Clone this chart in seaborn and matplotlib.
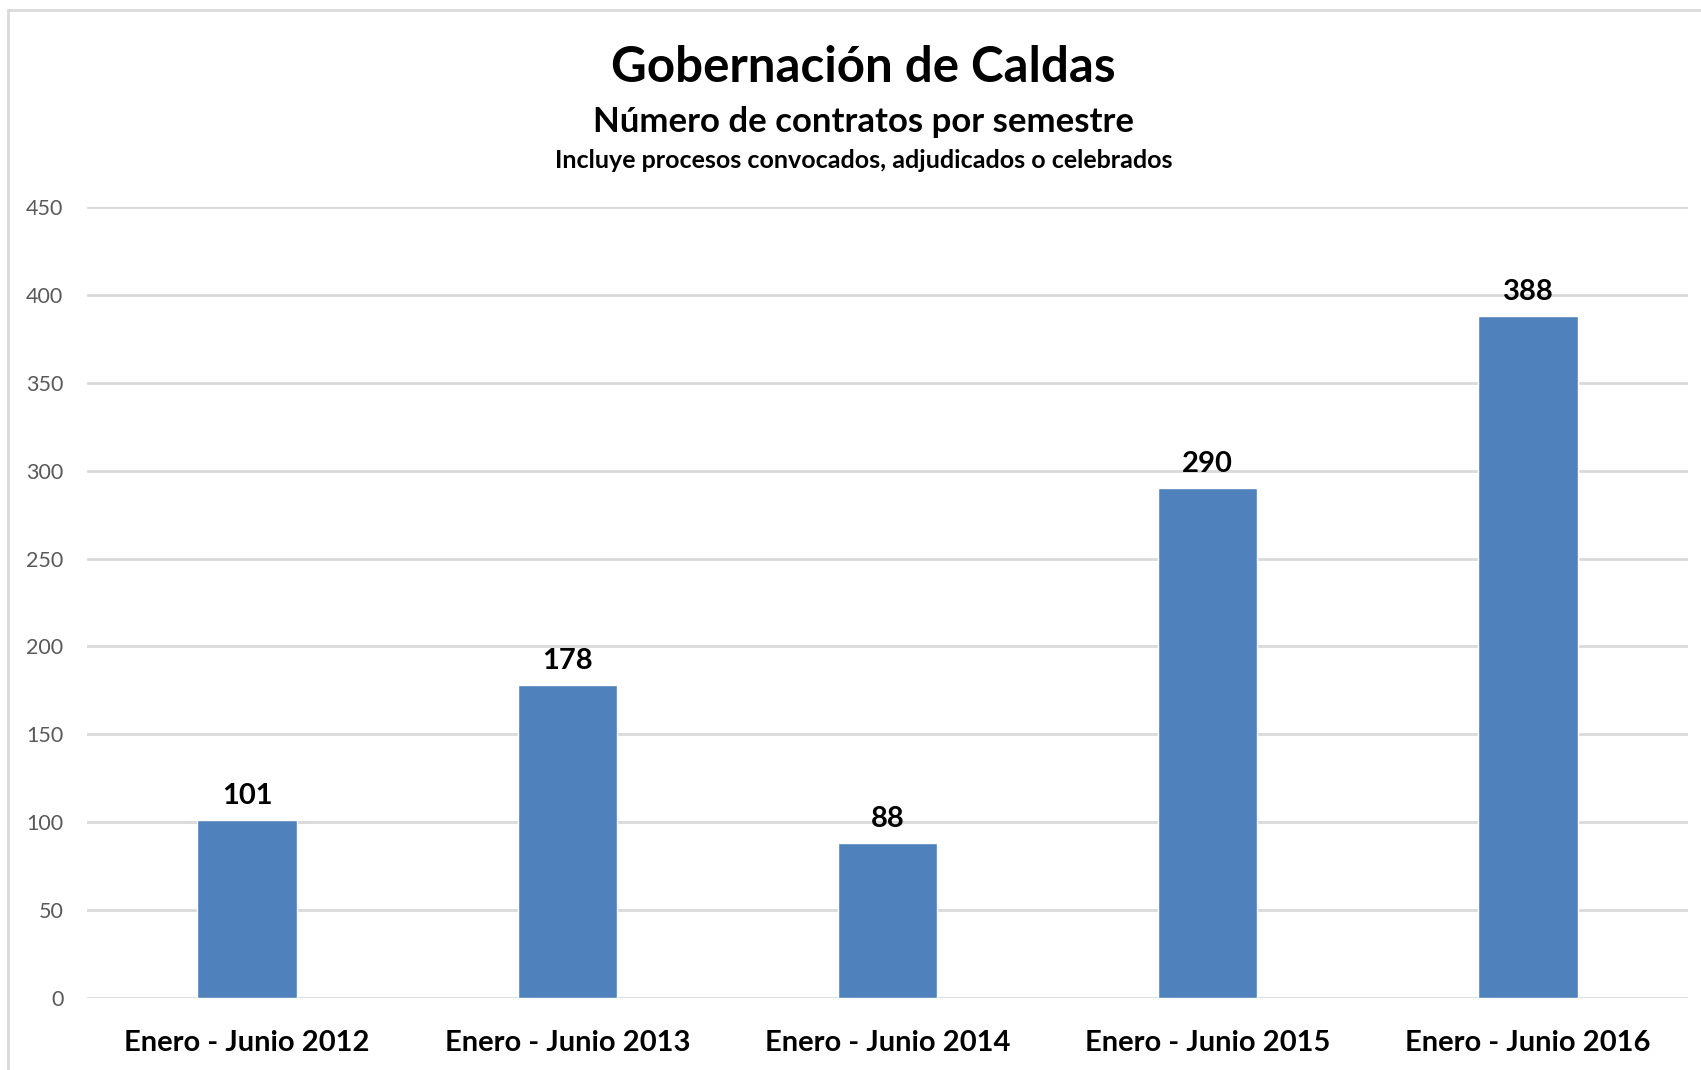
import pandas as pd
import matplotlib.pyplot as plt
import seaborn as sns
from matplotlib.patches import Rectangle

# Chart data
periodos = ["Enero - Junio 2012", "Enero - Junio 2013", "Enero - Junio 2014",
            "Enero - Junio 2015", "Enero - Junio 2016"]
contratos = [101, 178, 88, 290, 388]
y_ticks = [0, 50, 100, 150, 200, 250, 300, 350, 400, 450]

df = pd.DataFrame({"Periodo": periodos, "Contratos": contratos})

sns.set_theme(style="white")
plt.rcParams['font.family'] = ['Lato', 'DejaVu Sans']

fig = plt.figure(figsize=(17.01, 10.70), dpi=100)
ax = fig.add_axes([0.0511, 0.0673, 0.9413, 0.7392])

sns.barplot(data=df, x="Periodo", y="Contratos", color="#4F81BD",
            width=0.31, saturation=1, ax=ax)

# value labels on top of the bars
for cont in ax.containers:
    ax.bar_label(cont, labels=[str(v) for v in contratos], padding=8,
                 fontsize=21, fontweight="bold", color="black")

ax.set_ylim(0, 450)
ax.set_yticks(y_ticks)
ax.set_xlim(-0.5, len(periodos) - 0.5)
ax.yaxis.grid(True, color="#D9D9D9", linewidth=2)
ax.set_axisbelow(True)
ax.set_xlabel("")
ax.set_ylabel("")
for s in ax.spines.values():
    s.set_visible(False)
ax.tick_params(axis="y", labelsize=15.5, labelcolor="#595959", length=0, pad=17)
ax.tick_params(axis="x", labelsize=21, labelcolor="black", length=0, pad=23)
for lbl in ax.get_xticklabels():
    lbl.set_fontweight("bold")

# titles (centred slightly right of the figure middle, as in the original)
tx = 0.5 + 13 / 1701
fig.text(tx, 1 - 67 / 1070, "Gobernación de Caldas", ha="center", va="center",
         fontsize=35.5, fontweight="bold", color="black")
fig.text(tx, 1 - 122 / 1070, "Número de contratos por semestre", ha="center", va="center",
         fontsize=25, fontweight="bold", color="black")
fig.text(tx, 1 - 161 / 1070, "Incluye procesos convocados, adjudicados o celebrados",
         ha="center", va="center", fontsize=18, fontweight="bold", color="black")

# chart area border
fig.patches.append(Rectangle((8 / 1701, -0.05), 1.1, 1.05 - 10 / 1070,
                             transform=fig.transFigure, fill=False,
                             edgecolor="#D9D9D9", linewidth=2))

fig.savefig("out.png", dpi=100)
